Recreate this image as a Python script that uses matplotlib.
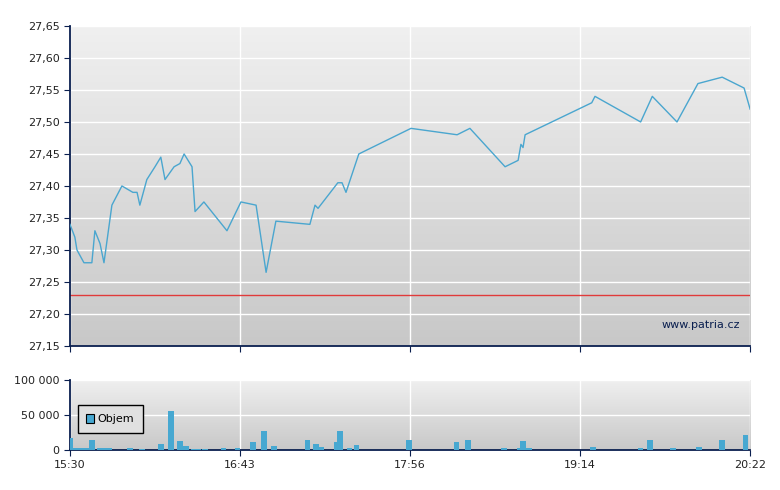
import numpy as np
import matplotlib.pyplot as plt
from matplotlib.patches import Rectangle

# minutes since 15:30
price_t = [0, 2.1, 3, 6, 9.4, 10.7, 12.9, 14.6, 18, 22.3, 27, 28.8, 30, 33, 36.5, 39, 40.8,
           44.7, 47.2, 49, 52.4, 53.7, 57.5, 67.4, 73.4, 79.9, 84.2, 88.4, 103, 105.2, 106.5,
           115, 116.8, 118.5, 124, 146.4, 166.2, 171.7, 186.8, 192.4, 193.6, 194.5, 195.4,
           224, 225.4, 245, 250, 260.6, 269.6, 280, 289.4, 292]
price = [27.34, 27.32, 27.30, 27.28, 27.28, 27.33, 27.31, 27.28, 27.37, 27.40, 27.39, 27.39,
         27.37, 27.41, 27.43, 27.445, 27.41, 27.43, 27.435, 27.45, 27.43, 27.36, 27.375,
         27.33, 27.375, 27.37, 27.265, 27.345, 27.34, 27.37, 27.365, 27.405, 27.405, 27.39,
         27.45, 27.49, 27.48, 27.49, 27.43, 27.44, 27.465, 27.46, 27.48, 27.53, 27.54, 27.50,
         27.54, 27.50, 27.56, 27.57, 27.553, 27.52]
prev_close = 27.23

vol_t = [0, 2, 4, 6, 8, 9.4, 13, 15, 17, 25.8, 31, 39, 43.4, 47.2, 49.8, 53, 55, 58, 66, 72,
         78.6, 83.3, 87.6, 102, 105.6, 108, 114.6, 116, 120, 123, 145.6, 166, 171, 186.3,
         193, 194.5, 197, 224.5, 245, 249, 259, 270, 280, 290]
vol = [17000, 3000, 3000, 3000, 3000, 14000, 3000, 3000, 3000, 3000, 1500, 9000, 55000, 13000,
       6000, 1500, 1500, 1500, 3000, 3000, 11500, 27000, 6000, 14000, 9000, 4000, 11500, 27000,
       3000, 7000, 14000, 11500, 14000, 3000, 3000, 13000, 3000, 4000, 3000, 14000, 3000, 4000,
       14000, 21000]

xticks = [0, 73, 146, 219, 292]
xlabels = ['15:30', '16:43', '17:56', '19:14', '20:22']

navy = '#0a1f4f'
line_c = '#4aa6cf'

fig = plt.figure(figsize=(7.8, 4.9), dpi=100)
ax = fig.add_axes([0.0897, 0.294, 0.872, 0.653])
ax2 = fig.add_axes([0.0897, 0.0816, 0.872, 0.143])

grad = np.linspace(0, 1, 256).reshape(-1, 1)
for a in (ax, ax2):
    a.imshow(grad, aspect='auto', cmap=plt.matplotlib.colors.LinearSegmentedColormap.from_list(
        'g', ['#f0f0f0', '#c8c8c8']), extent=[0, 292, 0, 1], transform=a.transAxes,
        zorder=0)
    a.set_xlim(0, 292)
    for s in a.spines.values():
        s.set_visible(False)
    a.spines['left'].set_visible(True)
    a.spines['bottom'].set_visible(True)
    a.spines['left'].set_color(navy)
    a.spines['bottom'].set_color(navy)
    a.spines['left'].set_linewidth(1.3)
    a.spines['bottom'].set_linewidth(1.3)
    a.set_xticks(xticks)
    a.grid(True, color='white', lw=1, zorder=1)
    a.tick_params(colors=navy, labelsize=8, direction='out', length=4, labelcolor='#222222')

ax.plot(price_t, price, color=line_c, lw=1, zorder=3)
ax.axhline(prev_close, color='#e03a3a', lw=1, zorder=2)
ax.set_ylim(27.15, 27.65)
yt = np.arange(27.15, 27.651, 0.05)
ax.set_yticks(yt)
ax.set_yticklabels([f'{v:.2f}'.replace('.', ',') for v in yt])
ax.set_xticklabels([])
ax.text(0.985, 0.05, 'www.patria.cz', transform=ax.transAxes, ha='right', va='bottom',
        fontsize=8, color=navy, zorder=4)

ax2.bar(vol_t, vol, width=2.4, color='#47a8d1', align='center', zorder=3)
ax2.set_ylim(0, 100000)
ax2.set_yticks([0, 50000, 100000])
ax2.set_yticklabels(['0', '50 000', '100 000'])
ax2.set_xticklabels(xlabels)

ax2.add_patch(Rectangle((0.012, 0.24), 0.095, 0.4, transform=ax2.transAxes,
                        facecolor='#e0e0e0', edgecolor='black', lw=1, zorder=4))
ax2.add_patch(Rectangle((0.024, 0.38), 0.011, 0.13, transform=ax2.transAxes,
                        facecolor='#47a8d1', edgecolor='black', lw=0.8, zorder=5))
ax2.text(0.04, 0.44, 'Objem', transform=ax2.transAxes, fontsize=8, va='center', zorder=5)

plt.savefig('out.png')
